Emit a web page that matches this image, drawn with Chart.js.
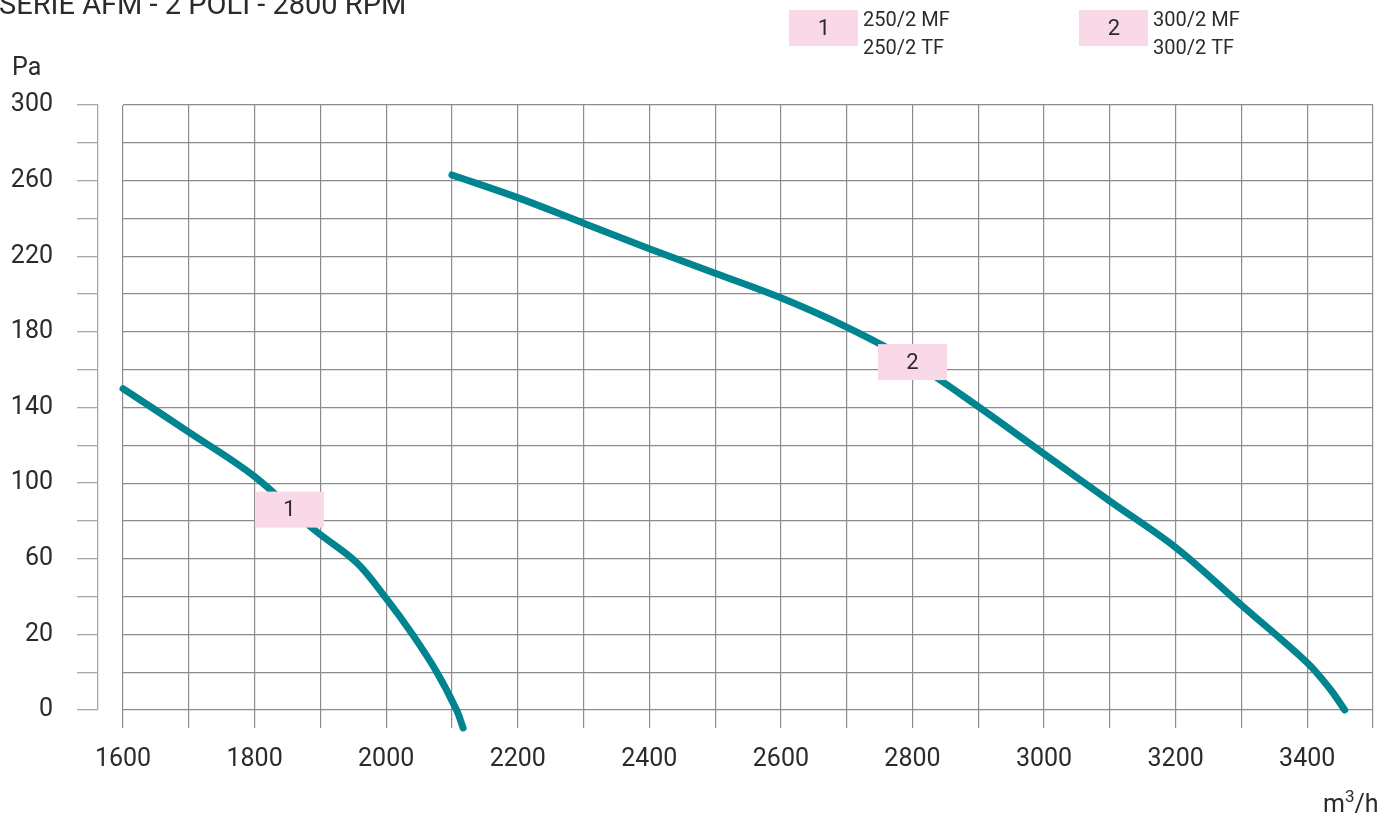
<!DOCTYPE html>
<html>
<head>
<meta charset="utf-8">
<script src="https://cdn.jsdelivr.net/npm/chart.js@4.4.1/dist/chart.umd.min.js"></script>
<style>
  html, body { margin: 0; padding: 0; background: #fff; }
  #wrap { position: relative; width: 1397px; height: 818px; }
</style>
</head>
<body>
<div id="wrap"><canvas id="fan-chart"></canvas></div>
<script>
// curva 1 - 250/2 MF, 250/2 TF
const airflow1 = [1600, 1700, 1800, 1890, 1955, 2000, 2040, 2077, 2107, 2117];
const pressure1 = [150, 127, 103.5, 75.5, 58, 39, 20, 0, -20, -29.5];

// curva 2 - 300/2 MF, 300/2 TF
const airflow2 = [2100, 2200, 2300, 2400, 2500, 2600, 2700, 2800, 2900, 3000, 3100, 3200, 3300, 3400, 3435, 3457];
const pressure2 = [263, 251, 237.5, 224, 211, 198, 182.5, 164, 140.5, 115.5, 90.5, 66, 35.5, 5, -9, -20];

const curveNames = ["1", "2"];
const legendLines = [["250/2 MF", "250/2 TF"], ["300/2 MF", "300/2 TF"]];
const labelAirflow = [1853, 2800];
const labelPressure = [86, 164];

const xMin = 1600, xMax = 3500, xStep = 100;
const yMin = -20, yMax = 300, yStep = 20;

const TEAL = "#00848f";
const PINK = "#f9d8e7";
const GRID = "#8c8c8c";
const TEXT = "#2b2b2b";
const FONT = "Roboto, 'Liberation Sans', sans-serif";

function toPoints(xs, ys) {
  return xs.map((x, i) => ({ x: x, y: ys[i] }));
}

// the bottom line of the original is printed as "0"
function yLabel(v) {
  if ((v - yMin) % 40 !== 0) return "";
  return v === yMin ? "0" : String(v);
}

const annotate = {
  id: "annotate",
  afterDatasetsDraw(chart) {
    const ctx = chart.ctx;
    const sx = chart.scales.x, sy = chart.scales.y;
    ctx.save();
    ctx.font = "22px " + FONT;
    ctx.textAlign = "center";
    ctx.textBaseline = "middle";
    curveNames.forEach((name, i) => {
      const px = sx.getPixelForValue(labelAirflow[i]);
      const py = sy.getPixelForValue(labelPressure[i]);
      ctx.fillStyle = PINK;
      ctx.fillRect(px - 34.5, py - 18, 69, 36);
      ctx.fillStyle = TEXT;
      ctx.fillText(name, px, py + 1);
    });
    ctx.restore();
  },
  afterDraw(chart) {
    const ctx = chart.ctx;
    ctx.save();
    ctx.fillStyle = TEXT;
    ctx.textBaseline = "alphabetic";
    ctx.textAlign = "left";

    ctx.font = "29px " + FONT;
    ctx.fillText("SERIE AFM - 2 POLI - 2800 RPM", -1, 14);
    ctx.font = "25px " + FONT;
    ctx.fillText("Pa", 12, 75);

    // m3/h
    ctx.fillText("m", 1323, 812);
    let w = ctx.measureText("m").width;
    ctx.font = "17px " + FONT;
    ctx.fillText("3", 1323 + w, 802);
    let w3 = ctx.measureText("3").width;
    ctx.font = "25px " + FONT;
    ctx.fillText("/h", 1323 + w + w3, 812);

    // legend
    const boxX = [789, 1079];
    curveNames.forEach((name, i) => {
      ctx.fillStyle = PINK;
      ctx.fillRect(boxX[i], 10, 69, 36);
      ctx.fillStyle = TEXT;
      ctx.font = "22px " + FONT;
      ctx.textAlign = "center";
      ctx.fillText(name, boxX[i] + 35, 35);
      ctx.textAlign = "left";
      ctx.font = "20px " + FONT;
      ctx.fillText(legendLines[i][0], boxX[i] + 74, 26);
      ctx.fillText(legendLines[i][1], boxX[i] + 74, 54);
    });
    ctx.restore();
  }
};

const lineStyle = {
  borderColor: TEAL,
  borderWidth: 7,
  borderCapStyle: "round",
  borderJoinStyle: "round",
  pointRadius: 0,
  tension: 0.35,
  clip: false,
  yAxisID: "y"
};

new Chart(document.getElementById("fan-chart"), {
  type: "line",
  data: {
    datasets: [
      Object.assign({ label: curveNames[0], data: toPoints(airflow1, pressure1) }, lineStyle),
      Object.assign({ label: curveNames[1], data: toPoints(airflow2, pressure2) }, lineStyle)
    ]
  },
  options: {
    responsive: true,
    maintainAspectRatio: false,
    animation: false,
    layout: { padding: { top: 105, right: 24, left: 0, bottom: 0 } },
    plugins: {
      legend: { display: false },
      tooltip: { enabled: false }
    },
    scales: {
      x: {
        type: "linear",
        min: xMin,
        max: xMax,
        afterFit(s) { s.height = 108; },
        grid: { color: GRID, lineWidth: 1.2, tickLength: 18, tickColor: GRID },
        border: { display: false },
        ticks: {
          stepSize: xStep,
          autoSkip: false,
          maxRotation: 0,
          minRotation: 0,
          padding: 17,
          color: TEXT,
          font: { family: FONT, size: 25 },
          callback: (v) => (v % 200 === 0 && v < xMax ? String(v) : "")
        }
      },
      y: {
        type: "linear",
        position: "left",
        weight: 0,
        min: yMin,
        max: yMax,
        afterFit(s) { s.width = 25; },
        grid: { color: GRID, lineWidth: 1.2, drawTicks: false },
        border: { display: false },
        ticks: { stepSize: yStep, display: false }
      },
      ruler: {
        type: "linear",
        position: "left",
        weight: 1,
        min: yMin,
        max: yMax,
        afterFit(s) { s.width = 98; },
        grid: { drawOnChartArea: false, tickLength: 21, color: "#a8a8a8", lineWidth: 1.3 },
        border: { display: true, color: "#a8a8a8", width: 1.3 },
        ticks: {
          stepSize: yStep,
          autoSkip: false,
          padding: 24,
          color: TEXT,
          font: { family: FONT, size: 25 },
          callback: yLabel
        }
      }
    }
  },
  plugins: [annotate]
});
</script>
</body>
</html>
